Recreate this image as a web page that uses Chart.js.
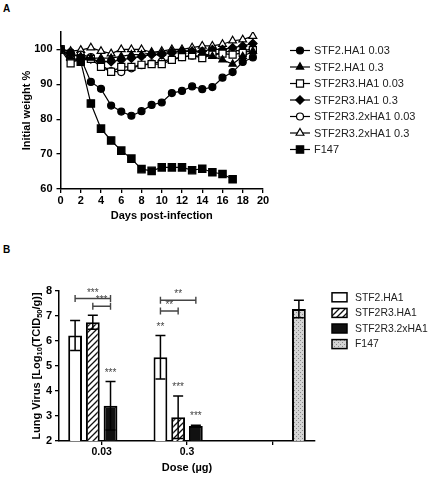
<!DOCTYPE html>
<html>
<head>
<meta charset="utf-8">
<script src="https://cdn.jsdelivr.net/npm/chart.js@4.4.0/dist/chart.umd.min.js"></script>
<style>
  body { margin: 0; background: #fff; width: 430px; height: 477px; position: relative; overflow: hidden;
         font-family: 'Liberation Sans', Arial, sans-serif; }
  .panel-label { position: absolute; left: 3px; font-weight: bold; font-size: 10px; line-height: 10px; }
  #weightChart { position: absolute; left: 0; top: 0; }
  #virusChart { position: absolute; left: 0; top: 240px; }
</style>
</head>
<body>
<div class="panel-label" style="top:4px">A</div>
<canvas id="weightChart" width="430" height="228"></canvas>
<div class="panel-label" style="top:245px">B</div>
<canvas id="virusChart" width="430" height="237"></canvas>
<script>
Chart.defaults.font.family = "'Liberation Sans', Arial, sans-serif"
Chart.defaults.color = '#000'

// ---- panel A data ----
const days = [0, 1, 2, 3, 4, 5, 6, 7, 8, 9, 10, 11, 12, 13, 14, 15, 16, 17, 18, 19]
const weightNames = ['STF2.HA1 0.03', 'STF2.HA1 0.3', 'STF2R3.HA1 0.03', 'STF2R3.HA1 0.3',
                     'STF2R3.2xHA1 0.03', 'STF2R3.2xHA1 0.3', 'F147']
const stf2Low   = [100, 99.2, 97.5, 90.7, 88.7, 83.9, 82.2, 81.0, 82.3, 84.1, 84.8, 87.5, 88.1, 89.4, 88.6, 89.2, 91.9, 93.5, 96.4, 97.7]
const stf2High  = [100, 98.5, 98.0, 97.5, 97.5, 97.5, 98.0, 98.5, 98.5, 99.0, 99.0, 99.5, 99.5, 99.5, 99.0, 98.0, 97.0, 95.8, 98.0, 99.5]
const r3Low     = [100, 96.0, 97.5, 97.3, 95.0, 93.6, 95.0, 95.0, 95.6, 95.8, 95.8, 97.0, 97.8, 98.3, 97.5, 98.5, 98.8, 98.5, 99.0, 99.8]
const r3High    = [100, 97.0, 97.0, 97.3, 96.5, 96.5, 97.0, 97.5, 98.0, 98.5, 98.5, 99.0, 99.5, 99.5, 99.5, 100.0, 100.0, 100.5, 101.0, 101.7]
const r3x2Low   = [100, 98.0, 98.5, 97.8, 95.5, 93.8, 93.5, 94.6, 95.5, 96.0, 96.5, 97.3, 97.8, 98.2, 98.0, 98.5, 99.0, 99.8, 99.5, 100.3]
const r3x2High  = [100, 99.5, 99.8, 100.5, 99.5, 98.8, 100.0, 100.0, 100.0, 99.2, 99.5, 100.0, 100.0, 100.5, 101.0, 101.0, 101.5, 102.5, 102.8, 103.8]
const f147Weight = [100, 98.0, 96.5, 84.5, 77.3, 73.9, 71.0, 68.7, 65.7, 65.2, 66.2, 66.2, 66.2, 65.4, 65.8, 64.8, 64.3, 62.8]
const weightTicks = [60, 70, 80, 90, 100]

// ---- panel B data ----
const doses = ['0.03', '0.3', '']
const virusNames = ['STF2.HA1', 'STF2R3.HA1', 'STF2R3.2xHA1', 'F147']
const virusStf2 = [6.22, 5.35, null]
const virusR3   = [6.75, 2.95, null]
const virusR3x2 = [3.41, 2.60, null]
const virusF147 = [null, null, 7.28]
const errStf2 = [0.60, 0.87, null]
const errR3   = [0.28, 0.85, null]
const errR3x2 = [0.97, 0.03, null]
const errF147 = [null, null, 0.35]
// brackets: [dataset, category] -> [dataset, category] at a y value
const sigBrackets = [
  {from: [0, 0], to: [2, 0], y: 7.70, text: '***'},
  {from: [1, 0], to: [2, 0], y: 7.39, text: '***'},
  {from: [0, 1], to: [2, 1], y: 7.63, text: '**'},
  {from: [0, 1], to: [1, 1], y: 7.20, text: '**'}
]
const sigMarks = [
  {ds: 2, i: 0, text: '***'},
  {ds: 0, i: 1, text: '**'},
  {ds: 1, i: 1, text: '***'},
  {ds: 2, i: 1, text: '***'}
]

const markers = [
  {style: 'circle', r: 3.5, fill: '#000'},
  {style: 'triangle', r: 4.2, fill: '#000'},
  {style: 'rect', r: 5, fill: '#fff'},
  {style: 'rectRot', r: 4.2, fill: '#000'},
  {style: 'circle', r: 3.5, fill: '#fff'},
  {style: 'triangle', r: 4.5, fill: '#fff'},
  {style: 'rect', r: 5.2, fill: '#000'}
]

const boldFont = {size: 11, weight: 'bold'}

const weightLegend = {
  id: 'weightLegend',
  afterDraw(chart) {
    const ctx = chart.ctx
    ctx.save()
    chart.data.datasets.forEach((ds, k) => {
      const y = 50.5 + k * 16.5
      ctx.strokeStyle = '#000'
      ctx.lineWidth = 1.2
      ctx.beginPath(); ctx.moveTo(290, y); ctx.lineTo(310, y); ctx.stroke()
      ctx.fillStyle = ds.pointBackgroundColor
      Chart.helpers.drawPoint(ctx, {pointStyle: ds.pointStyle, radius: ds.pointRadius, borderWidth: 1.2, rotation: 0}, 300, y)
      ctx.fillStyle = '#222'
      ctx.font = "11px 'Liberation Sans', Arial, sans-serif"
      ctx.textBaseline = 'middle'
      ctx.fillText(ds.label, 314, y + 0.5)
    })
    ctx.restore()
  }
}

const weightData = [stf2Low, stf2High, r3Low, r3High, r3x2Low, r3x2High, f147Weight]

new Chart(document.getElementById('weightChart'), {
  type: 'line',
  data: {
    datasets: weightData.map((vals, k) => ({
      label: weightNames[k],
      data: vals.map((v, i) => ({x: days[i], y: v})),
      borderColor: '#000',
      borderWidth: 1.2,
      pointStyle: markers[k].style,
      pointRadius: markers[k].r,
      pointHoverRadius: markers[k].r,
      pointBackgroundColor: markers[k].fill,
      pointBorderColor: '#000',
      pointBorderWidth: 1.2,
      tension: 0,
      fill: false
    }))
  },
  options: {
    responsive: false,
    animation: false,
    events: [],
    layout: {padding: {left: 0, top: 32, right: 167, bottom: 0}},
    plugins: {legend: {display: false}, tooltip: {enabled: false}},
    scales: {
      x: {
        type: 'linear', min: 0, max: 20,
        ticks: {stepSize: 2, font: boldFont, padding: 1, maxRotation: 0, autoSkip: false},
        grid: {drawOnChartArea: false, tickLength: 4, color: '#000', lineWidth: 1.3},
        border: {color: '#000', width: 1.5},
        title: {display: true, text: 'Days post-infection', font: boldFont, padding: {top: 0, bottom: 5}},
        afterFit: s => { s.height = 39 }
      },
      y: {
        min: 60, max: 105,
        afterBuildTicks: s => { s.ticks = weightTicks.map(v => ({value: v})) },
        ticks: {font: boldFont, padding: 4},
        grid: {drawOnChartArea: false, tickLength: 4, color: '#000', lineWidth: 1.3},
        border: {color: '#000', width: 1.5},
        title: {display: true, text: 'Initial weight %', font: boldFont, padding: {top: 20, bottom: 0}},
        afterFit: s => { s.width = 60.5 }
      }
    }
  },
  plugins: [weightLegend]
})

// ---- panel B ----
function tile(size, paint) {
  const c = document.createElement('canvas')
  c.width = size; c.height = size
  const g = c.getContext('2d')
  paint(g)
  return g.createPattern(c, 'repeat')
}
const hatch = tile(6, g => {
  g.fillStyle = '#fff'; g.fillRect(0, 0, 6, 6)
  g.strokeStyle = '#111'; g.lineWidth = 1.3
  g.beginPath()
  g.moveTo(0, 6); g.lineTo(6, 0)
  g.moveTo(-1, 1); g.lineTo(1, -1)
  g.moveTo(5, 7); g.lineTo(7, 5)
  g.stroke()
})
const speckle = tile(4, g => {
  g.fillStyle = '#d4d4d4'; g.fillRect(0, 0, 4, 4)
  g.fillStyle = '#8a8a8a'
  g.fillRect(0, 0, 1, 1); g.fillRect(2, 2, 1, 1)
})
const barFills = ['#fff', hatch, '#111', speckle]
const virusValues = [virusStf2, virusR3, virusR3x2, virusF147]
const virusErrors = [errStf2, errR3, errR3x2, errF147]

const errorBars = {
  id: 'errorBars',
  afterDatasetsDraw(chart) {
    const ctx = chart.ctx, y = chart.scales.y
    ctx.save()
    ctx.strokeStyle = '#000'
    ctx.lineWidth = 1.5
    chart.data.datasets.forEach((ds, d) => {
      chart.getDatasetMeta(d).data.forEach((bar, i) => {
        const v = ds.data[i], e = virusErrors[d][i]
        if (v == null || e == null) return
        const top = y.getPixelForValue(v + e), bot = y.getPixelForValue(v - e)
        ctx.beginPath()
        ctx.moveTo(bar.x, top); ctx.lineTo(bar.x, bot)
        ctx.moveTo(bar.x - 5, top); ctx.lineTo(bar.x + 5, top)
        ctx.moveTo(bar.x - 5, bot); ctx.lineTo(bar.x + 5, bot)
        ctx.stroke()
      })
    })
    ctx.restore()
  }
}

const significance = {
  id: 'significance',
  afterDraw(chart) {
    const ctx = chart.ctx, y = chart.scales.y
    const barX = (d, i) => chart.getDatasetMeta(d).data[i].x
    ctx.save()
    ctx.strokeStyle = '#444'
    ctx.fillStyle = '#444'
    ctx.lineWidth = 1.4
    ctx.font = "10px 'Liberation Sans', Arial, sans-serif"
    ctx.textAlign = 'center'
    ctx.textBaseline = 'alphabetic'
    sigBrackets.forEach(b => {
      const x1 = barX(b.from[0], b.from[1]), x2 = barX(b.to[0], b.to[1]), py = y.getPixelForValue(b.y)
      ctx.beginPath()
      ctx.moveTo(x1, py); ctx.lineTo(x2, py)
      ctx.moveTo(x1, py - 3.5); ctx.lineTo(x1, py + 3.5)
      ctx.moveTo(x2, py - 3.5); ctx.lineTo(x2, py + 3.5)
      ctx.stroke()
      ctx.fillText(b.text, (x1 + x2) / 2, py - 3)
    })
    sigMarks.forEach(m => {
      const v = virusValues[m.ds][m.i] + virusErrors[m.ds][m.i]
      ctx.fillText(m.text, barX(m.ds, m.i), y.getPixelForValue(v) - 6)
    })
    // y axis title with subscripts
    const parts = [['Lung Virus [Log', 0], ['10', 1], ['(TCID', 0], ['50', 1], ['/g)]', 0]]
    const main = "bold 11px 'Liberation Sans', Arial, sans-serif"
    const sub = "bold 7.5px 'Liberation Sans', Arial, sans-serif"
    let total = 0
    parts.forEach(p => { ctx.font = p[1] ? sub : main; total += ctx.measureText(p[0]).width })
    ctx.translate(37, (chart.chartArea.top + chart.chartArea.bottom) / 2)
    ctx.rotate(-Math.PI / 2)
    ctx.fillStyle = '#000'
    ctx.textAlign = 'left'
    ctx.textBaseline = 'middle'
    let px = -total / 2
    parts.forEach(p => {
      ctx.font = p[1] ? sub : main
      ctx.fillText(p[0], px, p[1] ? 3 : 0)
      px += ctx.measureText(p[0]).width
    })
    ctx.restore()
  }
}

const virusLegend = {
  id: 'virusLegend',
  afterDraw(chart) {
    const ctx = chart.ctx
    ctx.save()
    chart.data.datasets.forEach((ds, k) => {
      const y = 57.3 + k * 15.6
      ctx.fillStyle = ds.backgroundColor
      ctx.fillRect(332, y - 4.5, 15, 9)
      ctx.strokeStyle = '#000'
      ctx.lineWidth = 1.5
      ctx.strokeRect(332, y - 4.5, 15, 9)
      ctx.fillStyle = '#222'
      ctx.font = "10.4px 'Liberation Sans', Arial, sans-serif"
      ctx.textBaseline = 'middle'
      ctx.fillText(ds.label, 355, y + 0.5)
    })
    ctx.restore()
  }
}

new Chart(document.getElementById('virusChart'), {
  type: 'bar',
  data: {
    labels: doses,
    datasets: virusValues.map((vals, k) => ({
      label: virusNames[k],
      data: vals,
      backgroundColor: barFills[k],
      borderColor: '#000',
      borderWidth: 2,
      borderSkipped: false,
      categoryPercentage: 0.83,
      barPercentage: 0.78
    }))
  },
  options: {
    responsive: false,
    animation: false,
    events: [],
    layout: {padding: {left: 0, top: 51, right: 115, bottom: 0}},
    plugins: {legend: {display: false}, tooltip: {enabled: false}},
    scales: {
      x: {
        ticks: {font: {size: 10.5, weight: 'bold'}, padding: 1},
        grid: {offset: false, drawOnChartArea: false, tickLength: 4, color: '#000', lineWidth: 1.3},
        border: {color: '#000', width: 1.5},
        title: {display: true, text: 'Dose (µg)', font: boldFont, padding: {top: 0, bottom: 2}},
        afterFit: s => { s.height = 36 }
      },
      y: {
        min: 2, max: 8,
        ticks: {stepSize: 1, font: boldFont, padding: 3},
        grid: {drawOnChartArea: false, tickLength: 4, color: '#000', lineWidth: 1.3},
        border: {color: '#000', width: 1.5},
        afterFit: s => { s.width = 59 }
      }
    }
  },
  plugins: [errorBars, significance, virusLegend]
})
</script>
</body>
</html>
